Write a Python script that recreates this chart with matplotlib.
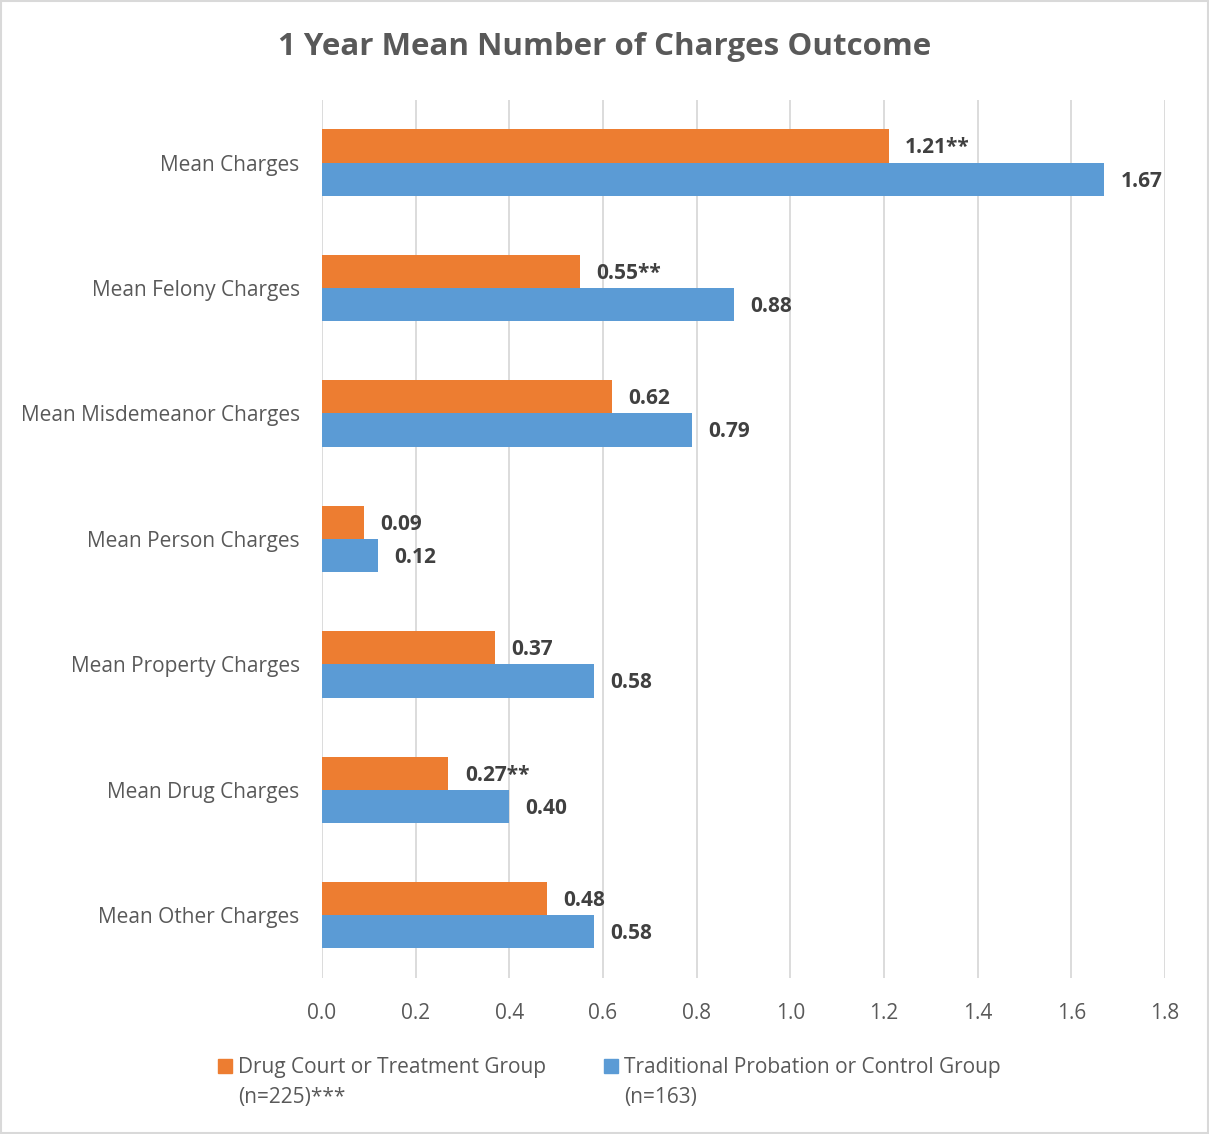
import numpy as np
from matplotlib import pyplot as plt
from matplotlib.patches import Rectangle

categories = ["Mean Charges", "Mean Felony Charges", "Mean Misdemeanor Charges",
              "Mean Person Charges", "Mean Property Charges", "Mean Drug Charges",
              "Mean Other Charges"]
treatment = [1.21, 0.55, 0.62, 0.09, 0.37, 0.27, 0.48]
control = [1.67, 0.88, 0.79, 0.12, 0.58, 0.40, 0.58]
treatment_labels = ["1.21**", "0.55**", "0.62", "0.09", "0.37", "0.27**", "0.48"]
control_labels = ["1.67", "0.88", "0.79", "0.12", "0.58", "0.40", "0.58"]
series_names = ["Drug Court or Treatment Group\n(n=225)***",
                "Traditional Probation or Control Group\n(n=163)"]
x_ticks = [0.0, 0.2, 0.4, 0.6, 0.8, 1.0, 1.2, 1.4, 1.6, 1.8]

ORANGE = "#ED7D31"
BLUE = "#5B9BD5"
TEXT = "#595959"
W, H = 1209, 1134

plt.rcParams['font.family'] = ['Open Sans', 'DejaVu Sans']

fig = plt.figure(figsize=(W / 100, H / 100), dpi=100)
ax = fig.add_axes([0.2663, 0.1376, 0.6973, 0.7743])

y = np.arange(len(categories))
h = 0.265
ax.barh(y - h / 2, treatment, height=h, color=ORANGE, label=series_names[0], zorder=3)
ax.barh(y + h / 2, control, height=h, color=BLUE, label=series_names[1], zorder=3)

# value labels
for yi, v, lab in zip(y, treatment, treatment_labels):
    ax.text(v + 0.035, yi - h / 2 + 0.015, lab, va='center', ha='left', fontsize=15,
            fontweight='bold', color="#404040")
for yi, v, lab in zip(y, control, control_labels):
    ax.text(v + 0.035, yi + h / 2 + 0.015, lab, va='center', ha='left', fontsize=15,
            fontweight='bold', color="#404040")

ax.set_ylim(len(categories) - 0.5, -0.5)
ax.set_xlim(0, 1.8)
ax.set_yticks(y)
ax.set_yticklabels(categories, fontsize=15, color=TEXT)
ax.set_xticks(x_ticks)
ax.set_xticklabels([f"{t:.1f}" for t in x_ticks], fontsize=15, color=TEXT)
ax.tick_params(axis='both', length=0)
ax.tick_params(axis='y', pad=16)
ax.tick_params(axis='x', pad=18)
ax.grid(axis='x', color="#D9D9D9", linewidth=1.3, zorder=0)
for s in ax.spines.values():
    s.set_visible(False)

fig.text(0.5, 1 - 47 / H, "1 Year Mean Number of Charges Outcome", ha='center', va='center',
         fontsize=22.5, fontweight='bold', color=TEXT)

# legend drawn by hand so the square sits beside the first line
sq = 14
for name, color, x0 in zip(series_names, [ORANGE, BLUE], [218, 604]):
    fig.patches.append(Rectangle((x0 / W, 1 - (1066 + sq / 2) / H), sq / W, sq / H,
                                 transform=fig.transFigure, color=color))
    fig.text((x0 + sq + 6) / W, 1 - 1057 / H, name, ha='left', va='top', fontsize=15,
             color=TEXT, linespacing=1.55)

fig.patches.append(Rectangle((0.001, 0.001), 0.998, 0.998, transform=fig.transFigure,
                             fill=False, edgecolor="#D9D9D9", linewidth=1.5))

fig.savefig("out.png", dpi=100)
